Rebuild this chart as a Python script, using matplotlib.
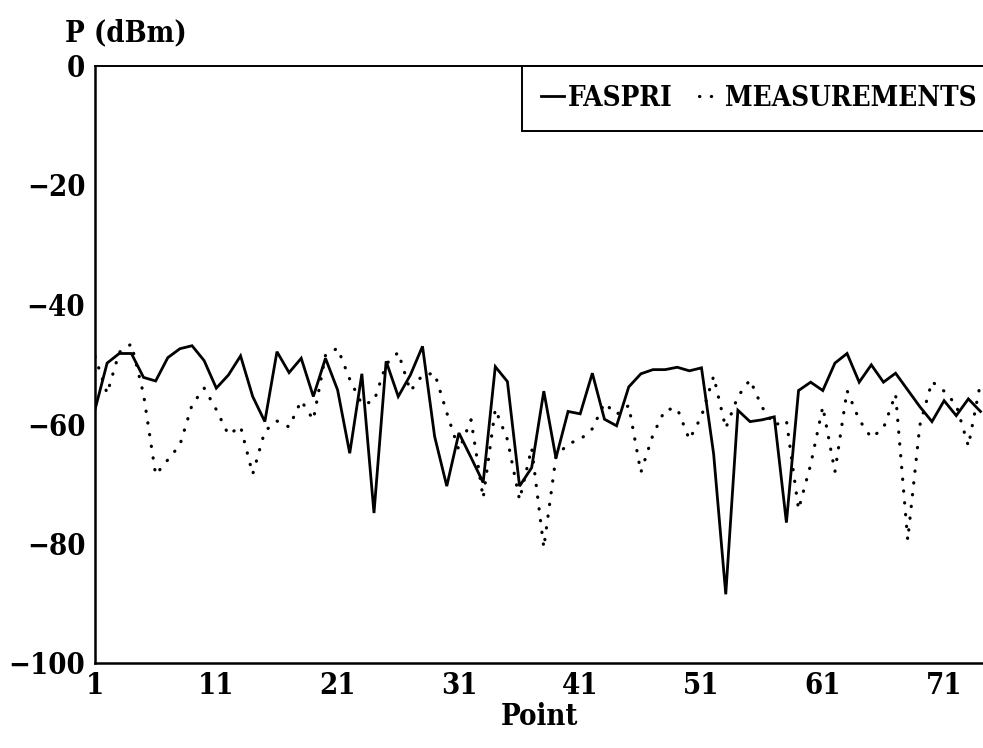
import matplotlib
matplotlib.use("Agg")
import matplotlib.pyplot as plt
import numpy as np

# point index along the route
points = np.arange(1, 75)

# received power, dBm
faspri = [-57.6, -49.8, -48.2, -48.2, -52.2, -52.8, -48.9, -47.4, -46.9, -49.4,
          -54.0, -51.8, -48.6, -55.4, -59.6, -47.9, -51.4, -49.0, -55.4, -49.0,
          -54.3, -64.9, -51.6, -74.9, -49.5, -55.4, -51.8, -47.0, -62.1, -70.4,
          -61.5, -65.6, -69.8, -50.4, -52.9, -70.4, -67.3, -54.5, -65.7, -57.9,
          -58.3, -51.5, -59.2, -60.3, -53.8, -51.6, -50.9, -50.9, -50.5, -51.1,
          -50.6, -65.0, -88.5, -57.7, -59.6, -59.3, -58.8, -76.5, -54.4, -53.0,
          -54.4, -49.8, -48.2, -53.0, -50.1, -53.0, -51.5, -54.3, -57.1, -59.6,
          -56.1, -58.6, -55.8, -57.9]

measurements = [-48.7, -54.9, -48.0, -46.6, -55.0, -68.5, -66.0, -63.5, -56.8, -54.0,
                -57.6, -61.8, -60.4, -68.4, -61.2, -59.5, -60.5, -56.1, -59.3, -48.5,
                -47.3, -52.5, -56.7, -56.2, -50.0, -48.0, -54.5, -51.8, -51.5, -58.1,
                -64.4, -59.3, -72.4, -57.5, -62.6, -72.7, -64.0, -80.7, -65.5, -63.3,
                -62.6, -60.8, -56.5, -58.4, -56.9, -68.1, -61.8, -57.6, -57.4, -62.6,
                -58.7, -52.0, -60.7, -55.4, -52.6, -57.2, -60.2, -59.4, -74.3, -66.8,
                -57.1, -68.0, -54.4, -59.3, -62.3, -60.7, -55.0, -79.4, -60.2, -52.9,
                -54.5, -56.8, -63.7, -53.1]

x_ticks = [1, 11, 21, 31, 41, 51, 61, 71]
y_ticks = [0, -20, -40, -60, -80, -100]

plt.rcParams['font.family'] = ['DejaVu Serif']
plt.rcParams['font.weight'] = 'bold'
plt.rcParams['font.stretch'] = 'condensed'

fig = plt.figure(figsize=(9.83, 7.48), dpi=100)
ax = fig.add_axes([95 / 983, 1 - 663 / 748, 1 - 95 / 983, (663 - 65.5) / 748])

ax.plot(points, faspri, color='black', linewidth=2.0, solid_joinstyle='miter',
        label='FASPRI')
ax.plot(points, measurements, color='black', linewidth=2.3,
        linestyle=(0, (0.1, 3.6)), dash_capstyle='round', label='MEASUREMENTS')

ax.set_xlim(1, 1 + 888 / 12.13)
ax.set_ylim(-100, 0)
ax.set_xticks(x_ticks)
ax.set_yticks(y_ticks)
ax.tick_params(length=0, labelsize=21, pad=7)
ax.tick_params(axis='x', pad=6)

ax.spines['right'].set_visible(False)
ax.spines['left'].set_linewidth(1.8)
ax.spines['bottom'].set_linewidth(1.8)
ax.spines['top'].set_linewidth(1.4)

ax.set_xlabel('Point', fontsize=21, fontweight='bold', labelpad=1)
fig.text(65 / 983, 1 - 33 / 748, 'P (dBm)', fontsize=21, fontweight='bold',
         va='center', ha='left')

leg = ax.legend(loc='upper left', bbox_to_anchor=((522 - 95) / 888, 1.0), ncol=2,
                fontsize=20, handlelength=0.8, handletextpad=0.15, columnspacing=0.95,
                borderpad=0.7, fancybox=False, framealpha=1, borderaxespad=0)
leg.get_frame().set_edgecolor('black')
leg.get_frame().set_linewidth(1.4)

fig.savefig('out.png', dpi=100)
